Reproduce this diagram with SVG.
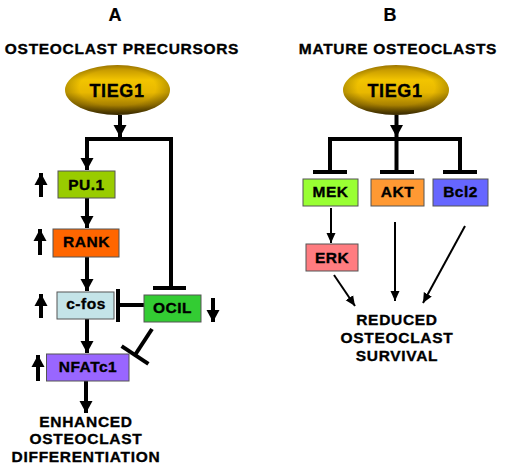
<svg xmlns="http://www.w3.org/2000/svg" width="505" height="468" viewBox="0 0 505 468">
<style>
text{font-family:"Liberation Sans",Arial,sans-serif;font-weight:bold;fill:#000;stroke:#000;stroke-width:0.35px;text-anchor:middle}
.title{font-size:18px;stroke-width:0.2px}
.head{font-size:15.5px;letter-spacing:0.7px}
.lab{font-size:15.5px;letter-spacing:0.5px}
.oval{font-size:18px;letter-spacing:0.6px}
.box{stroke:#555;stroke-width:1}
.thick{stroke:#000;stroke-width:4;fill:none}
.thin{stroke:#000;stroke-width:2;fill:none}
</style>
<defs>
<linearGradient id="gold" x1="0" y1="0" x2="0" y2="1">
<stop offset="0" stop-color="#b48800"/>
<stop offset="0.3" stop-color="#f2c400"/>
<stop offset="0.55" stop-color="#e8b800"/>
<stop offset="0.8" stop-color="#a88000"/>
<stop offset="1" stop-color="#4a3600"/>
</linearGradient>
<radialGradient id="shade" cx="50%" cy="45%" r="52%">
<stop offset="0.7" stop-color="#000" stop-opacity="0"/>
<stop offset="1" stop-color="#000" stop-opacity="0.25"/>
</radialGradient>
<marker id="ah" markerUnits="userSpaceOnUse" markerWidth="14" markerHeight="14" viewBox="0 0 14 14" refX="12" refY="7" orient="auto">
<path d="M0,0.5 L12,7 L0,13.5 Z" fill="#000"/>
</marker>
<marker id="ahs" markerUnits="userSpaceOnUse" markerWidth="11" markerHeight="11" viewBox="0 0 11 11" refX="10" refY="5.5" orient="auto">
<path d="M0,1 L10,5.5 L0,10 Z" fill="#000"/>
</marker>
</defs>

<rect width="505" height="468" fill="#fff"/>

<text class="title" x="115" y="21">A</text>
<text class="title" x="390" y="21">B</text>
<text class="head" x="122" y="54">OSTEOCLAST PRECURSORS</text>
<text class="head" x="398" y="54">MATURE OSTEOCLASTS</text>

<g id="connectors">
<!-- Panel A -->
<line class="thick" x1="120" y1="115" x2="120" y2="137" marker-end="url(#ah)"/>
<polyline class="thick" points="87,152 87,139 171,139 171,288"/>
<line class="thick" x1="87" y1="150" x2="87" y2="170" marker-end="url(#ah)"/>
<line class="thick" x1="153" y1="288" x2="186" y2="288"/>
<line class="thick" x1="87" y1="198" x2="87" y2="228" marker-end="url(#ah)"/>
<line class="thick" x1="87" y1="257" x2="87" y2="291" marker-end="url(#ah)"/>
<line class="thick" x1="87" y1="319" x2="87" y2="353" marker-end="url(#ah)"/>
<line class="thick" x1="86" y1="381" x2="86" y2="413" marker-end="url(#ah)"/>
<line class="thick" x1="144" y1="305" x2="118" y2="305"/>
<line class="thick" x1="118" y1="289" x2="118" y2="322"/>
<line class="thick" x1="152" y1="329" x2="135" y2="355"/>
<line class="thick" x1="121.6" y1="346.2" x2="148.4" y2="363.8"/>
<!-- side arrows -->
<line class="thick" x1="41" y1="197" x2="41" y2="173" marker-end="url(#ah)"/>
<line class="thick" x1="40" y1="255" x2="40" y2="229" marker-end="url(#ah)"/>
<line class="thick" x1="41" y1="318" x2="41" y2="294" marker-end="url(#ah)"/>
<line class="thick" x1="38" y1="381" x2="38" y2="355" marker-end="url(#ah)"/>
<line class="thick" x1="213" y1="298" x2="213" y2="322" marker-end="url(#ah)"/>
<!-- Panel B -->
<line class="thick" x1="396.5" y1="115" x2="396.5" y2="137" marker-end="url(#ah)"/>
<line class="thick" x1="328" y1="139" x2="462" y2="139"/>
<line class="thick" x1="330" y1="139" x2="330" y2="172"/>
<line class="thick" x1="396.5" y1="139" x2="396.5" y2="172"/>
<line class="thick" x1="460" y1="139" x2="460" y2="172"/>
<line class="thick" x1="313" y1="172" x2="347" y2="172"/>
<line class="thick" x1="380" y1="172" x2="414" y2="172"/>
<line class="thick" x1="443" y1="172" x2="477" y2="172"/>
<line class="thin" x1="331" y1="208" x2="331" y2="243" marker-end="url(#ahs)"/>
<line class="thin" x1="395" y1="222" x2="395" y2="301" marker-end="url(#ahs)"/>
<line class="thin" x1="465" y1="226" x2="423" y2="303" marker-end="url(#ahs)"/>
<line class="thin" x1="334" y1="275" x2="355" y2="306" marker-end="url(#ahs)"/>
</g>

<g id="tieg1-a">
<ellipse cx="117.5" cy="90" rx="52.5" ry="25" fill="url(#gold)"/>
<ellipse cx="117.5" cy="90" rx="52.5" ry="25" fill="url(#shade)"/>
<text class="oval" x="117" y="97">TIEG1</text>
</g>
<g id="tieg1-b">
<ellipse cx="396" cy="90" rx="53" ry="25" fill="url(#gold)"/>
<ellipse cx="396" cy="90" rx="53" ry="25" fill="url(#shade)"/>
<text class="oval" x="395" y="97">TIEG1</text>
</g>

<g id="pu1">
<rect class="box" x="58" y="171" width="57" height="27" fill="#99cc00"/>
<text class="lab" x="86.5" y="190">PU.1</text>
</g>
<g id="rank">
<rect class="box" x="53" y="229" width="66" height="28" fill="#ff6600"/>
<text class="lab" x="86.5" y="247">RANK</text>
</g>
<g id="cfos">
<rect class="box" x="57" y="292" width="57" height="27" fill="#c4e4e8"/>
<text class="lab" x="86" y="309">c-fos</text>
</g>
<g id="ocil">
<rect class="box" x="144" y="295" width="57" height="27" fill="#33cc33"/>
<text class="lab" x="172.5" y="313">OCIL</text>
</g>
<g id="nfatc1">
<rect class="box" x="46.5" y="354" width="82.5" height="27" fill="#9966ff"/>
<text class="lab" x="88" y="372">NFATc1</text>
</g>
<g id="enhanced">
<text class="head" x="86" y="427">ENHANCED</text>
<text class="head" x="86" y="444">OSTEOCLAST</text>
<text class="head" x="86" y="462">DIFFERENTIATION</text>
</g>

<g id="mek">
<rect class="box" x="303" y="179" width="55" height="27" fill="#99ff33"/>
<text class="lab" x="330.5" y="197">MEK</text>
</g>
<g id="akt">
<rect class="box" x="371" y="179" width="53" height="27" fill="#ff9933"/>
<text class="lab" x="397.5" y="197">AKT</text>
</g>
<g id="bcl2">
<rect class="box" x="433" y="179" width="55" height="27" fill="#6666ff"/>
<text class="lab" x="460.5" y="197">Bcl2</text>
</g>
<g id="erk">
<rect class="box" x="306" y="244" width="52" height="27" fill="#ff7c80"/>
<text class="lab" x="332" y="263">ERK</text>
</g>
<g id="reduced">
<text class="head" x="397" y="325">REDUCED</text>
<text class="head" x="397" y="343">OSTEOCLAST</text>
<text class="head" x="397" y="361">SURVIVAL</text>
</g>
</svg>
